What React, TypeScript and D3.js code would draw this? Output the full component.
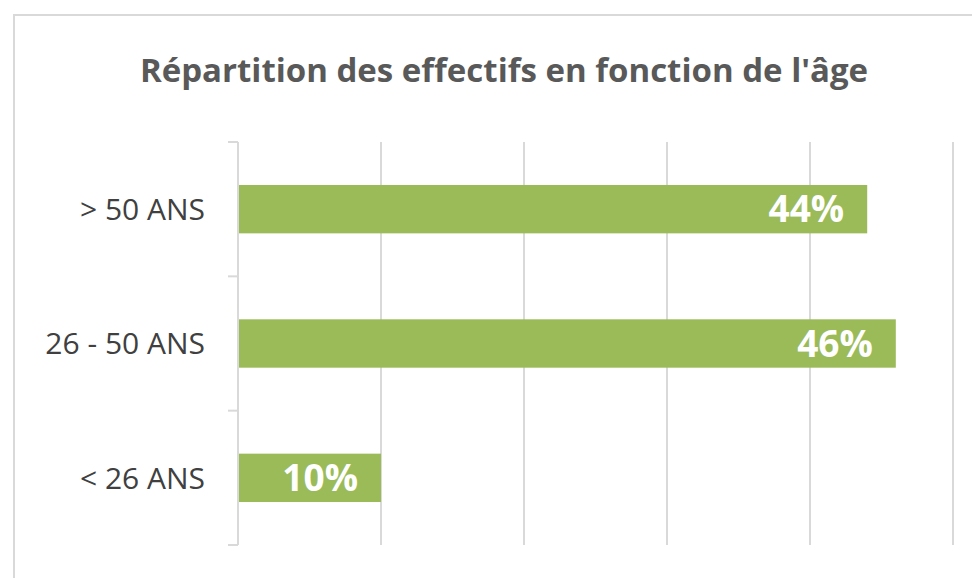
import * as d3 from 'd3';
import { useEffect, useRef } from 'react';

// Chart data
const categories = ['> 50 ANS', '26 - 50 ANS', '< 26 ANS'];
const shares = [0.44, 0.46, 0.1];
const xTicks = [0, 0.1, 0.2, 0.3, 0.4, 0.5];
const title = "Répartition des effectifs en fonction de l'âge";

export default function App() {
  const svgRef = useRef<SVGSVGElement>(null);

  const width = 972;
  const height = 578;
  const plot = { left: 238, right: 953, top: 142, bottom: 545 };

  useEffect(() => {
    const svg = d3.select(svgRef.current);
    svg.selectAll('*').remove();

    // Outer frame of the chart area
    svg
      .append('rect')
      .attr('x', 14)
      .attr('y', 15)
      .attr('width', width)
      .attr('height', height)
      .attr('fill', 'white')
      .attr('stroke', '#d9d9d9')
      .attr('stroke-width', 2);

    // Scales
    const xScale = d3.scaleLinear().domain([0, 0.5]).range([plot.left, plot.right]);
    const yScale = d3
      .scaleBand()
      .domain(categories)
      .range([plot.top, plot.bottom])
      .paddingInner(0.64)
      .paddingOuter(0.32);

    // Vertical gridlines
    svg
      .append('g')
      .selectAll('line')
      .data(xTicks.slice(1))
      .enter()
      .append('line')
      .attr('x1', (d) => xScale(d))
      .attr('x2', (d) => xScale(d))
      .attr('y1', plot.top)
      .attr('y2', plot.bottom)
      .attr('stroke', '#d9d9d9')
      .attr('stroke-width', 2);

    // Category axis with tick marks between the bands
    const axis = svg.append('g');
    axis
      .append('line')
      .attr('x1', plot.left)
      .attr('x2', plot.left)
      .attr('y1', plot.top)
      .attr('y2', plot.bottom)
      .attr('stroke', '#d9d9d9')
      .attr('stroke-width', 2);
    const bandEdges = d3
      .range(categories.length + 1)
      .map((i) => plot.top + i * ((plot.bottom - plot.top) / categories.length));
    axis
      .selectAll('line.tick')
      .data(bandEdges)
      .enter()
      .append('line')
      .attr('class', 'tick')
      .attr('x1', plot.left - 10)
      .attr('x2', plot.left)
      .attr('y1', (d) => d)
      .attr('y2', (d) => d)
      .attr('stroke', '#d9d9d9')
      .attr('stroke-width', 2);

    axis
      .selectAll('text')
      .data(categories)
      .enter()
      .append('text')
      .attr('x', 205)
      .attr('y', (d) => (yScale(d) ?? 0) + yScale.bandwidth() / 2)
      .attr('dy', '0.36em')
      .attr('text-anchor', 'end')
      .attr('fill', '#404040')
      .style('font-family', "'Open Sans', sans-serif")
      .style('font-size', '30px')
      .text((d) => d);

    // Bars
    svg
      .append('g')
      .selectAll('rect')
      .data(categories)
      .enter()
      .append('rect')
      .attr('x', xScale(0) + 1)
      .attr('y', (d) => yScale(d) ?? 0)
      .attr('width', (d, i) => xScale(shares[i]) - xScale(0) - 1)
      .attr('height', yScale.bandwidth())
      .attr('fill', '#9bbb59');

    // Value labels inside the bars
    svg
      .append('g')
      .selectAll('text')
      .data(categories)
      .enter()
      .append('text')
      .attr('x', (d, i) => xScale(shares[i]) - 23)
      .attr('y', (d) => (yScale(d) ?? 0) + yScale.bandwidth() / 2)
      .attr('dy', '0.36em')
      .attr('text-anchor', 'end')
      .attr('fill', 'white')
      .style('font-family', "'Open Sans', sans-serif")
      .style('font-weight', 700)
      .style('font-size', '37px')
      .text((d, i) => `${Math.round(shares[i] * 100)}%`);

    // Title
    svg
      .append('text')
      .attr('x', 504)
      .attr('y', 82)
      .attr('text-anchor', 'middle')
      .attr('fill', '#595959')
      .style('font-family', "'Open Sans', sans-serif")
      .style('font-weight', 700)
      .style('font-size', '33px')
      .text(title);
  }, []);

  return (
    <svg
      ref={svgRef}
      width={width}
      height={height}
      style={{ position: 'absolute', left: 0, top: 0, background: 'white' }}
    />
  );
}
